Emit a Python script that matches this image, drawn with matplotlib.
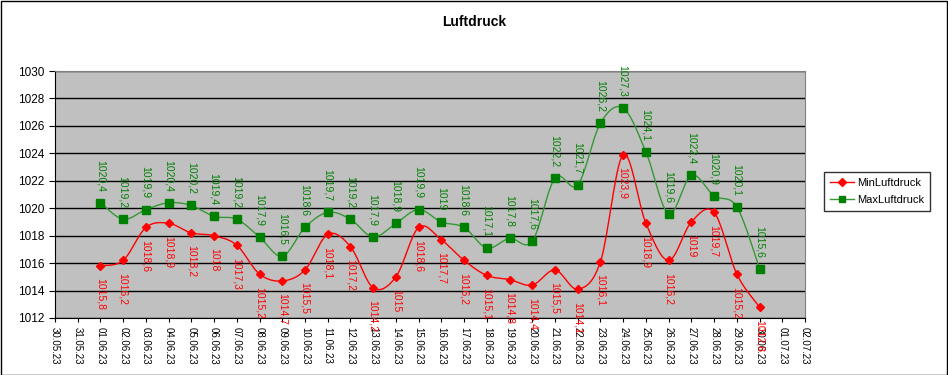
import numpy as np
import matplotlib.pyplot as plt
import matplotlib.dates as mdates
from datetime import date, timedelta

plt.rcParams['font.family'] = ['Liberation Sans', 'DejaVu Sans']

days = [date(2023, 6, d) for d in range(1, 31)]
min_druck = [1015.8, 1016.2, 1018.6, 1018.9, 1018.2, 1018.0, 1017.3, 1015.2, 1014.7, 1015.5,
             1018.1, 1017.2, 1014.2, 1015.0, 1018.6, 1017.7, 1016.2, 1015.1, 1014.8, 1014.4,
             1015.5, 1014.1, 1016.1, 1023.9, 1018.9, 1016.2, 1019.0, 1019.7, 1015.2, 1012.8]
max_druck = [1020.4, 1019.2, 1019.9, 1020.4, 1020.2, 1019.4, 1019.2, 1017.9, 1016.5, 1018.6,
             1019.7, 1019.2, 1017.9, 1018.9, 1019.9, 1019.0, 1018.6, 1017.1, 1017.8, 1017.6,
             1022.2, 1021.7, 1026.2, 1027.3, 1024.1, 1019.6, 1022.4, 1020.9, 1020.1, 1015.6]


def smooth(x, y, n=20):
    # Catmull-Rom style curve like Excel's smoothed line
    x = np.asarray(x, float)
    y = np.asarray(y, float)
    xs, ys = [], []
    for i in range(len(x) - 1):
        x0, y0 = (x[i - 1], y[i - 1]) if i > 0 else (x[i], y[i])
        x3, y3 = (x[i + 2], y[i + 2]) if i + 2 < len(x) else (x[i + 1], y[i + 1])
        p1 = np.array([x[i], y[i]])
        p2 = np.array([x[i + 1], y[i + 1]])
        c1 = p1 + (p2 - np.array([x0, y0])) / 6
        c2 = p2 - (np.array([x3, y3]) - p1) / 6
        t = np.linspace(0, 1, n)[:, None]
        pts = (1 - t) ** 3 * p1 + 3 * (1 - t) ** 2 * t * c1 + 3 * (1 - t) * t ** 2 * c2 + t ** 3 * p2
        xs.extend(pts[:, 0])
        ys.extend(pts[:, 1])
    return np.array(xs), np.array(ys)


fig = plt.figure(figsize=(9.48, 3.75), dpi=100)
ax = fig.add_axes([55 / 948, 57 / 375, 750 / 948, 247 / 375])
ax.set_facecolor('#C0C0C0')

xnum = mdates.date2num(days)

sx, sy = smooth(xnum, min_druck)
ax.plot(sx, sy, color='#FF0000', lw=1, zorder=3)
ax.plot(xnum, min_druck, ls='none', marker='D', ms=4.5, color='#FF0000', zorder=4)
sx, sy = smooth(xnum, max_druck)
ax.plot(sx, sy, color='#339933', lw=1, zorder=3)
ax.plot(xnum, max_druck, ls='none', marker='s', ms=6, color='#008000', zorder=4)

for xv, v in zip(xnum, min_druck):
    ax.annotate(f"{v:g}".replace('.', ','), (xv, v), xytext=(0, -9), textcoords='offset points',
                rotation=270, ha='center', va='top', color='#FF0000', fontsize=7.5, zorder=5)
for xv, v in zip(xnum, max_druck):
    ax.annotate(f"{v:g}".replace('.', ','), (xv, v), xytext=(0, 8), textcoords='offset points',
                rotation=270, ha='center', va='bottom', color='#008000', fontsize=7.5, zorder=5)

# legend handles
ax.plot([], [], color='#FF0000', marker='D', ms=4, lw=1, label='MinLuftdruck')
ax.plot([], [], color='#339933', marker='s', ms=5, mfc='#008000', mec='#008000', lw=1, label='MaxLuftdruck')
h, l = ax.get_legend_handles_labels()
leg = fig.legend(h[-2:], l[-2:], loc='upper left', bbox_to_anchor=(824 / 948, 1 - 172 / 375),
                 borderaxespad=0, frameon=True, fancybox=False, edgecolor='black', fontsize=8,
                 borderpad=0.5, handlelength=2.2, handletextpad=0.3, labelspacing=0.7)
leg.get_frame().set_linewidth(1)

ax.set_ylim(1012, 1030)
ax.set_yticks(np.arange(1012, 1031, 2))
ax.set_xlim(mdates.date2num(date(2023, 5, 30)), mdates.date2num(date(2023, 7, 2)))
ticks = [date(2023, 5, 30) + timedelta(days=i) for i in range(34)]
ax.set_xticks(mdates.date2num(ticks))
ax.set_xticklabels([t.strftime('%d.%m.%y') for t in ticks], rotation=270, fontsize=7)
ax.tick_params(axis='y', labelsize=8.5, length=4, direction='out', color='black')
ax.tick_params(axis='x', length=3, direction='out')
ax.grid(axis='y', color='black', lw=1)
ax.set_axisbelow(True)
for s in ['top', 'right']:
    ax.spines[s].set_color('#808080')
for s in ['left', 'bottom']:
    ax.spines[s].set_color('black')

fig.text(0.5, 1 - 22 / 375, 'Luftdruck', ha='center', va='center', fontsize=10, fontweight='bold')
fig.patches.append(plt.Rectangle((0.5 / 948, 0.5 / 375), 1 - 1.5 / 948, 1 - 1.5 / 375,
                                 transform=fig.transFigure, fill=False, edgecolor='black', lw=1))

fig.savefig('out.png', dpi=100)
